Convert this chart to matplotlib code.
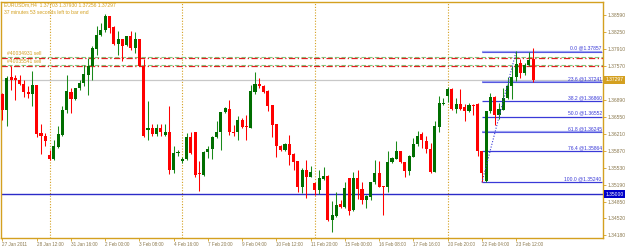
import matplotlib.pyplot as plt
import matplotlib.transforms as mtransforms
import numpy as np

# EURUSDm H4 bars, 27 Jan 2011 04:00 .. 24 Feb 2011 04:00
opens = [1.3700, 1.3668, 1.3734, 1.3732, 1.3729, 1.3721, 1.3704, 1.3700, 1.3718, 1.3622,
         1.3616, 1.3578, 1.3570, 1.3594, 1.3619, 1.3668, 1.3704, 1.3691, 1.3712, 1.3722,
         1.3739, 1.3756, 1.3790, 1.3818, 1.3828, 1.3856, 1.3834, 1.3800, 1.3810, 1.3799,
         1.3816, 1.3792, 1.3810, 1.3757, 1.3628, 1.3633, 1.3621, 1.3633, 1.3619, 1.3625,
         1.3549, 1.3582, 1.3566, 1.3570, 1.3614, 1.3624, 1.3542, 1.3539, 1.3584, 1.3590,
         1.3614, 1.3624, 1.3665, 1.3671, 1.3625, 1.3624, 1.3648, 1.3636, 1.3633, 1.3704,
         1.3721, 1.3717, 1.3706, 1.3678, 1.3640, 1.3597, 1.3588, 1.3601, 1.3580, 1.3566,
         1.3516, 1.3549, 1.3536, 1.3523, 1.3509, 1.3531, 1.3536, 1.3449, 1.3457, 1.3480,
         1.3476, 1.3532, 1.3468, 1.3532, 1.3511, 1.3489, 1.3496, 1.3524, 1.3543, 1.3517,
         1.3514, 1.3564, 1.3570, 1.3587, 1.3564, 1.3546, 1.3576, 1.3601, 1.3621, 1.3607,
         1.3591, 1.3544, 1.3634, 1.3681, 1.3696, 1.3710, 1.3670, 1.3680, 1.3674, 1.3667,
         1.3679, 1.3680, 1.3586, 1.3526, 1.3666, 1.3694, 1.3659, 1.3669, 1.3692, 1.3716,
         1.3734, 1.3762, 1.3742, 1.3759, 1.37703]
highs = [1.3702, 1.3736, 1.3756, 1.3739, 1.3738, 1.3729, 1.3716, 1.3746, 1.3718, 1.3641,
         1.3622, 1.3589, 1.3609, 1.3636, 1.3677, 1.3739, 1.3712, 1.3712, 1.3729, 1.3759,
         1.3772, 1.3796, 1.3836, 1.3842, 1.3860, 1.3857, 1.3836, 1.3826, 1.3810, 1.3817,
         1.3826, 1.3824, 1.3810, 1.3770, 1.3687, 1.3641, 1.3641, 1.3641, 1.3641, 1.3676,
         1.3597, 1.3589, 1.3576, 1.3622, 1.3625, 1.3624, 1.3566, 1.3586, 1.3598, 1.3617,
         1.3646, 1.3665, 1.3674, 1.3688, 1.3639, 1.3656, 1.3652, 1.3659, 1.3719, 1.3744,
         1.3732, 1.3719, 1.3708, 1.3678, 1.3640, 1.3599, 1.3602, 1.3619, 1.3582, 1.3567,
         1.3552, 1.3569, 1.3557, 1.3523, 1.3548, 1.3556, 1.3539, 1.3486, 1.3505, 1.3489,
         1.3525, 1.3532, 1.3545, 1.3549, 1.3524, 1.3499, 1.3525, 1.3568, 1.3567, 1.3517,
         1.3586, 1.3576, 1.3607, 1.3587, 1.3564, 1.3579, 1.3612, 1.3626, 1.3624, 1.3616,
         1.3602, 1.3646, 1.3696, 1.3692, 1.3714, 1.3712, 1.3692, 1.3710, 1.3680, 1.3682,
         1.3681, 1.3682, 1.3587, 1.3667, 1.3702, 1.3696, 1.3682, 1.3712, 1.3734, 1.3756,
         1.3786, 1.3770, 1.3762, 1.3784, 1.37930]
lows = [1.3648, 1.3636, 1.3709, 1.3689, 1.3719, 1.3694, 1.3692, 1.3677, 1.3614, 1.3581,
        1.3596, 1.3569, 1.3568, 1.3592, 1.3616, 1.3662, 1.3662, 1.3689, 1.3709, 1.3716,
        1.3699, 1.3729, 1.3779, 1.3816, 1.3824, 1.3822, 1.3799, 1.3779, 1.3766, 1.3796,
        1.3789, 1.3782, 1.3756, 1.3614, 1.3608, 1.3617, 1.3616, 1.3617, 1.3616, 1.3541,
        1.3542, 1.3577, 1.3562, 1.3569, 1.3581, 1.3534, 1.3506, 1.3537, 1.3572, 1.3570,
        1.3612, 1.3589, 1.3662, 1.3619, 1.3616, 1.3609, 1.3632, 1.3609, 1.3632, 1.3701,
        1.3712, 1.3702, 1.3666, 1.3614, 1.3576, 1.3586, 1.3586, 1.3559, 1.3549, 1.3504,
        1.3502, 1.3494, 1.3534, 1.3499, 1.3501, 1.3529, 1.3446, 1.3424, 1.3456, 1.3474,
        1.3474, 1.3459, 1.3466, 1.3491, 1.3481, 1.3474, 1.3489, 1.3521, 1.3514, 1.3459,
        1.3504, 1.3562, 1.3570, 1.3562, 1.3534, 1.3539, 1.3574, 1.3598, 1.3592, 1.3582,
        1.3542, 1.3544, 1.3624, 1.3679, 1.3684, 1.3669, 1.3662, 1.3669, 1.3646, 1.3664,
        1.3659, 1.3577, 1.3524, 1.3524, 1.3662, 1.3639, 1.3650, 1.3668, 1.3690, 1.3690,
        1.3726, 1.3732, 1.3738, 1.3756, 1.37256]
closes = [1.3669, 1.3732, 1.3729, 1.3728, 1.3721, 1.3704, 1.3700, 1.3718, 1.3621, 1.3616,
          1.3606, 1.3570, 1.3596, 1.3620, 1.3669, 1.3706, 1.3691, 1.3712, 1.3722, 1.3741,
          1.3757, 1.3792, 1.3819, 1.3828, 1.3856, 1.3832, 1.3800, 1.3810, 1.3797, 1.3816,
          1.3792, 1.3810, 1.3757, 1.3616, 1.3633, 1.3620, 1.3633, 1.3625, 1.3625, 1.3549,
          1.3582, 1.3585, 1.3570, 1.3614, 1.3582, 1.3539, 1.3540, 1.3585, 1.3591, 1.3614,
          1.3624, 1.3665, 1.3672, 1.3624, 1.3622, 1.3648, 1.3634, 1.3634, 1.3706, 1.3721,
          1.3716, 1.3704, 1.3677, 1.3639, 1.3596, 1.3588, 1.3601, 1.3579, 1.3564, 1.3516,
          1.3548, 1.3536, 1.3545, 1.3508, 1.3533, 1.3536, 1.3448, 1.3458, 1.3479, 1.3476,
          1.3513, 1.3466, 1.3533, 1.3511, 1.3489, 1.3496, 1.3525, 1.3543, 1.3516, 1.3514,
          1.3564, 1.3572, 1.3587, 1.3564, 1.3546, 1.3576, 1.3601, 1.3618, 1.3608, 1.3590,
          1.3544, 1.3636, 1.3682, 1.3683, 1.3710, 1.3670, 1.3680, 1.3670, 1.3667, 1.3679,
          1.3676, 1.3586, 1.3542, 1.3667, 1.3694, 1.3659, 1.3670, 1.3692, 1.3717, 1.3734,
          1.3760, 1.3742, 1.3759, 1.3769, 1.37297]

time_labels = ['27 Jan 2011', '28 Jan 12:00', '31 Jan 16:00', '2 Feb 00:00', '3 Feb 08:00',
               '4 Feb 16:00', '7 Feb 20:00', '9 Feb 04:00', '10 Feb 12:00', '11 Feb 20:00',
               '15 Feb 00:00', '16 Feb 08:00', '17 Feb 16:00', '20 Feb 20:00', '22 Feb 04:00',
               '23 Feb 12:00']
time_label_bars = [0, 8, 16, 24, 32, 40, 48, 56, 64, 72, 80, 88, 96, 104, 112, 120]
week_start_bars = [11, 42, 73, 104]

price_ticks = [1.38590, 1.38250, 1.37910, 1.37570, 1.36890, 1.36550, 1.36210,
               1.35870, 1.35530, 1.35190, 1.34850, 1.34520, 1.34180]

bid = 1.37297
level_line = 1.35000
orders = ['#40034931 sell', '#40035541 sell']
order_prices = [1.37723, 1.37570]

fib_start, fib_end = 112, 120
fib_high, fib_low = 1.37857, 1.35240
fib_names = ['0.0', '23.6', '38.2', '50.0', '61.8', '76.4', '100.0']
fib_prices = [1.37857, 1.37241, 1.36860, 1.36552, 1.36245, 1.35864, 1.35240]

gold = '#D4A020'
bull_body, bull_wick = '#006E00', '#1A8A1A'
bear = '#FF0000'
fib_blue = '#3A3AD8'

plt.rcParams['font.family'] = ['Liberation Sans', 'DejaVu Sans']

fig = plt.figure(figsize=(6.25, 2.48), dpi=100)
fig.patch.set_facecolor('white')
ax = fig.add_axes([1 / 625, 9.7 / 248, 602 / 625, 236 / 248])
ax.set_facecolor('white')

o = np.array(opens)
h = np.array(highs)
l = np.array(lows)
c = np.array(closes)
x = np.arange(len(o))
up = c >= o

# week separators
for b in week_start_bars:
    ax.axvline(b, color=gold, lw=0.8, ls=(0, (1, 1.5)), zorder=1)

# bid and level lines
ax.axhline(bid, color='#C8C8C8', lw=0.9, zorder=1)
ax.axhline(level_line, color='#2B2BC8', lw=1.0, zorder=1)

# candles
ax.vlines(x[up], l[up], h[up], color=bull_wick, lw=0.75, zorder=3)
ax.vlines(x[~up], l[~up], h[~up], color=bear, lw=0.75, zorder=3)
body_lo = np.minimum(o, c)
body_h = np.maximum(np.abs(c - o), 0.00009)
ax.bar(x[up], body_h[up], bottom=body_lo[up], width=0.72, color=bull_body, zorder=4, linewidth=0)
ax.bar(x[~up], body_h[~up], bottom=body_lo[~up], width=0.72, color=bear, zorder=4, linewidth=0)

# order lines
for name, p in zip(orders, order_prices):
    ax.axhline(p + 0.00022, color='#7FCC7F', lw=0.8, ls=(0, (4, 2)), zorder=2)
    ax.axhline(p, color='#E02020', lw=0.9, ls=(0, (5, 2, 1, 2)), zorder=2)
    ax.text(1.0, p + 0.0004, name, color=gold, fontsize=3.6, ha='left', va='bottom', zorder=5)

# fibonacci
fib_right = 140.0
for name, p in zip(fib_names, fib_prices):
    pale = name in ('0.0', '23.6', '61.8')
    ax.hlines(p, fib_start, fib_right, color='#9AA0F0' if pale else fib_blue,
              lw=1.6 if pale else 0.9, zorder=2)
    if pale:
        ax.hlines(p, fib_start, fib_right, color=fib_blue, lw=0.5, zorder=2)
    ax.text(fib_right, p + 0.00025, f'{name} @{p:.5f}', color=fib_blue, fontsize=3.6,
            ha='right', va='bottom', zorder=5)
ax.plot([fib_start, fib_end], [fib_low, fib_high], color=fib_blue, lw=0.8,
        ls=(0, (1, 1.5)), zorder=5)

ax.set_xlim(-0.35, 140.3)
ax.set_ylim(1.34124, 1.38844)

for s in ax.spines.values():
    s.set_color(gold)
    s.set_linewidth(1.0)

ax.yaxis.tick_right()
ax.set_yticks(price_ticks, [f'{p:.5f}' for p in price_ticks])
ax.tick_params(axis='y', direction='out', length=2.5, width=0.6, color=gold,
               labelcolor='#8C7A50', labelsize=3.6, pad=1)
ax.set_xticks(time_label_bars, time_labels)
ax.tick_params(axis='x', direction='out', length=2, width=0.6, color=gold,
               labelcolor='#8C7A50', labelsize=3.3, pad=1)
for lab in ax.get_xticklabels():
    lab.set_ha('left')

# price boxes on the scale
trans = mtransforms.blended_transform_factory(ax.transAxes, ax.transData)
ax.text(1.004, bid, f'{bid:.5f}', transform=trans, color='white', fontsize=3.6,
        ha='left', va='center', zorder=6,
        bbox=dict(boxstyle='square,pad=0.3', fc=gold, ec='none'))
ax.text(1.004, level_line, f'{level_line:.5f}', transform=trans, color='white', fontsize=3.6,
        ha='left', va='center', zorder=6,
        bbox=dict(boxstyle='square,pad=0.3', fc='#0000C8', ec='none'))

# header
fig.text(4 / 625, 1 - 5 / 248, 'EURUSDm,H4  1.37703 1.37930 1.37256 1.37297',
         color=gold, fontsize=3.6, va='center', ha='left')
fig.text(4 / 625, 1 - 12 / 248, '37 minutes 53 seconds left to bar end',
         color=gold, fontsize=3.6, va='center', ha='left')

fig.savefig('out.png', dpi=100)
